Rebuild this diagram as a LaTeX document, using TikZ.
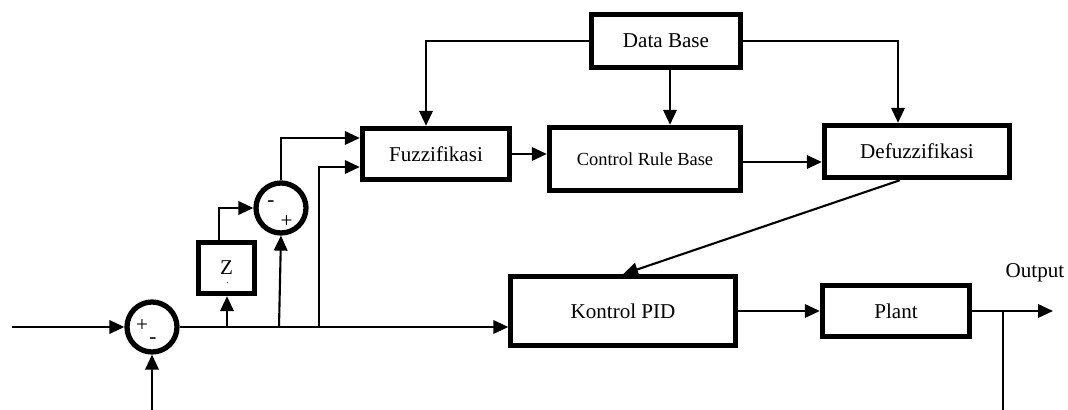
\documentclass[tikz,border=0pt]{standalone}
\usepackage{fontspec}
\setmainfont{Liberation Serif}
\usetikzlibrary{arrows.meta}

\begin{document}
\begin{tikzpicture}[
    >={Triangle[length=3mm,width=2.7mm]},
    blok/.style={draw, line width=2.8pt, inner sep=0pt, font=\fontsize{12}{14}\selectfont},
    jumlah/.style={circle, draw, line width=3pt, minimum size=1cm, inner sep=0pt},
    tanda/.style={inner sep=0pt, font=\fontsize{12}{14}\selectfont},
    teks/.style={inner sep=0pt, font=\fontsize{12}{14}\selectfont},
    panah/.style={->, line width=1.2pt},
    garis/.style={line width=1.2pt}
  ]
  \fill[white] (0,0) rectangle (21.36,8.2);
  \useasboundingbox (0,0) rectangle (21.36,8.2);

  % fuzzy part
  \node[blok, minimum width=2.99cm, minimum height=1.07cm] (db) at (13.32,7.38) {Data Base};
  \node[blok, minimum width=2.95cm, minimum height=1.03cm] (fuz) at (8.72,5.12) {Fuzzifikasi};
  \node[blok, minimum width=3.83cm, minimum height=1.27cm, font=\fontsize{10.5}{12}\selectfont] (crb) at (12.9,5.02) {Control Rule Base};
  \node[blok, minimum width=3.71cm, minimum height=1.05cm] (defuz) at (18.34,5.17) {Defuzzifikasi};

  % loop
  \node[blok, minimum width=4.49cm, minimum height=1.37cm] (pid) at (12.46,1.98) {Kontrol PID};
  \node[blok, minimum width=2.95cm, minimum height=1.03cm] (plant) at (17.92,1.98) {Plant};
  \node[blok, minimum width=1.13cm, minimum height=1.03cm] (zblok) at (4.53,2.84) {Z};
  \node[tanda, font=\tiny] (ztitik) at ([shift={(0.02,-0.3)}]zblok.center) {.};
  \node[jumlah] (sum1) at (3.04,1.66) {};
  \node[jumlah] (sum2) at (5.62,4.04) {};
  \node[tanda] (s1plus) at ([shift={(-0.2,0.02)}]sum1.center) {+};
  \node[tanda] (s1min) at ([shift={(0.02,-0.27)}]sum1.center) {-};
  \node[tanda] (s2min) at ([shift={(-0.2,0.08)}]sum2.center) {-};
  \node[tanda] (s2plus) at ([shift={(0.11,-0.27)}]sum2.center) {+};
  \node[teks] (out) at (20.7,2.74) {Output};

  \coordinate (masuk) at (0.24,1.66);
  \coordinate (umpanbalik) at (3.04,0);
  \coordinate (cz) at (4.54,1.66);
  \coordinate (cs2) at (5.58,1.66);
  \coordinate (cf) at (6.38,1.66);
  \coordinate (keluar) at (21.06,1.98);
  \coordinate (cabang) at (20.06,1.98);
  \coordinate (bawah) at (20.06,0);

  \draw[panah] (masuk) -- (sum1.west);
  \draw[panah] (umpanbalik) -- (sum1.south);
  \draw[panah] (sum1.east) -- (sum1.east -| pid.west);
  \draw[panah] (cz) -- (cz |- zblok.south);
  \draw[panah] ([xshift=-0.15cm]zblok.north) |- (sum2.west);
  \draw[panah] (cs2) -- (sum2.south);
  \draw[panah] (sum2.north) |- ([yshift=0.32cm]fuz.west);
  \draw[panah] (cf) |- ([yshift=-0.26cm]fuz.west);
  \draw[panah] (fuz.east) -- (fuz.east -| crb.west);
  \draw[panah] ([yshift=-0.06cm]crb.east) -- ([yshift=-0.06cm]crb.east -| defuz.west);
  \draw[panah] (db.west) -| ([xshift=-0.2cm]fuz.north);
  \draw[panah] ([xshift=0.08cm]db.south) -- ([xshift=0.08cm]db.south |- crb.north);
  \draw[panah] (db.east) -| ([xshift=-0.38cm]defuz.north);
  \draw[panah] ([xshift=-0.34cm]defuz.south) -- (pid.north);
  \draw[panah] (pid.east) -- (plant.west);
  \draw[panah] (plant.east) -- (keluar);
  \draw[garis] (cabang) -- (bawah);
\end{tikzpicture}
\end{document}
